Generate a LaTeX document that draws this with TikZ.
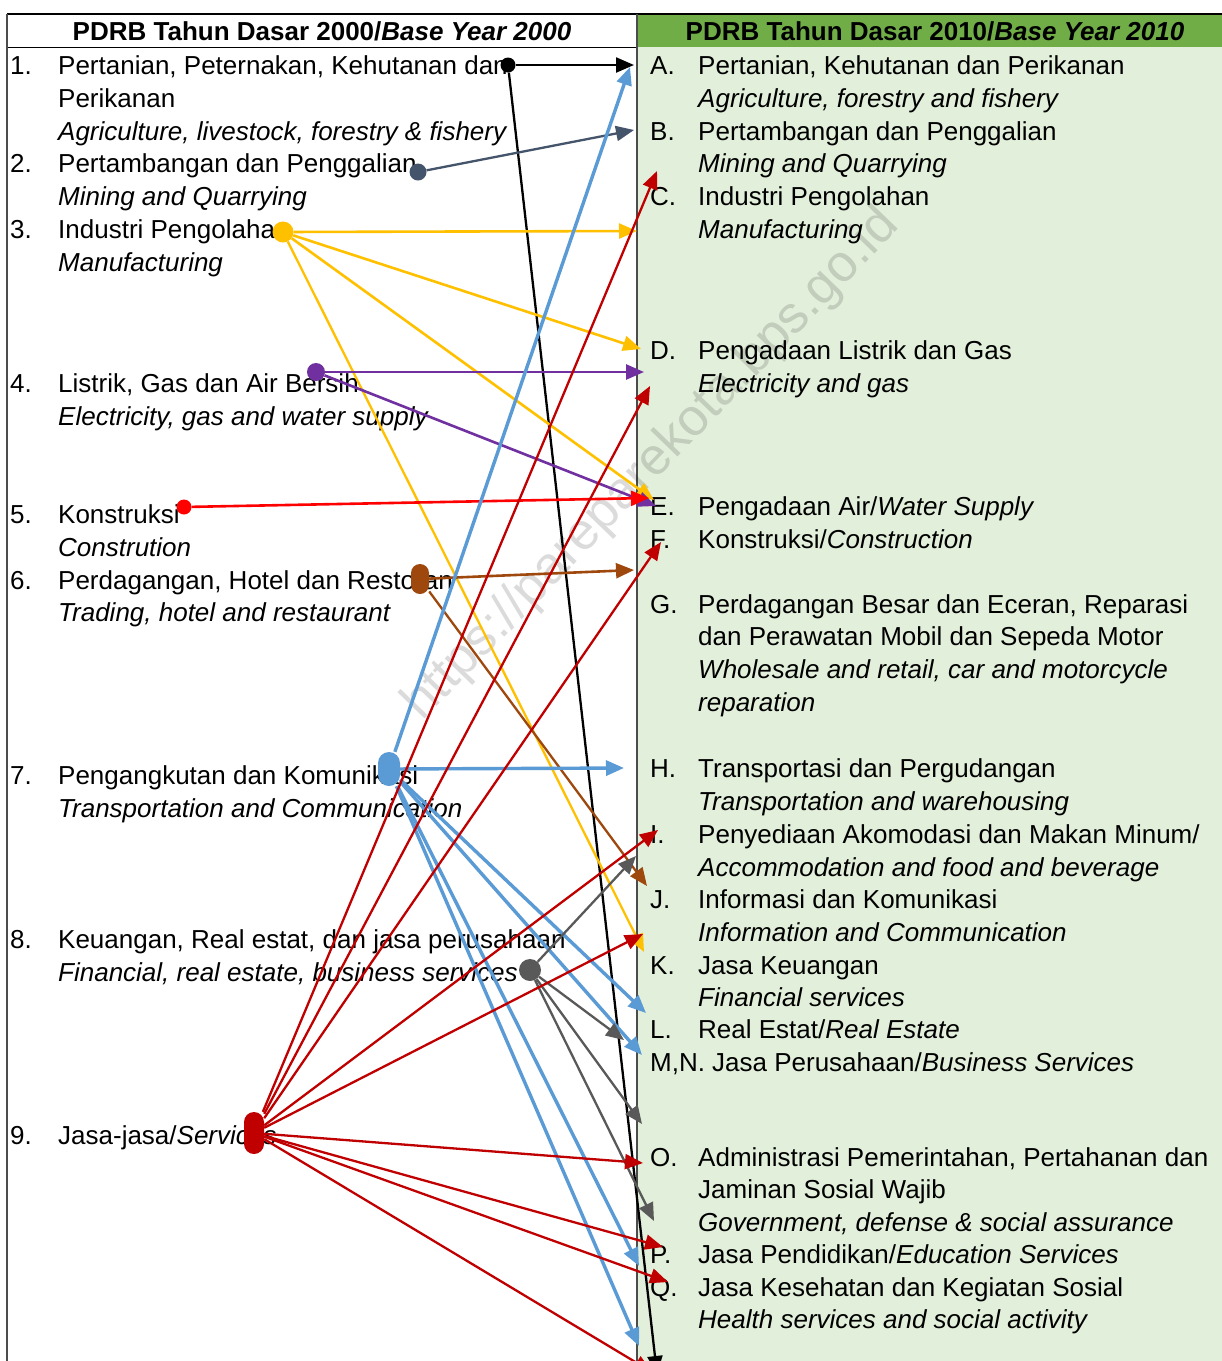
\documentclass[tikz,border=0pt]{standalone}
\usepackage{fontspec}
\setmainfont{Liberation Sans}
\usetikzlibrary{arrows.meta}
\definecolor{hdrgreen}{HTML}{70AD47}
\definecolor{bodygreen}{HTML}{E2EFDA}
\definecolor{cslate}{HTML}{44546A}
\definecolor{cyellow}{HTML}{FFC000}
\definecolor{cpurple}{HTML}{7030A0}
\definecolor{cred}{HTML}{FF0000}
\definecolor{cbrown}{HTML}{9E480E}
\definecolor{cblue}{HTML}{5B9BD5}
\definecolor{cgray}{HTML}{595959}
\definecolor{cdred}{HTML}{C00000}
\begin{document}
\begin{tikzpicture}[x=1pt,y=-1pt,
  lbl/.style={anchor=base west,inner sep=0pt,font=\fontsize{26}{31}\selectfont},
  ilbl/.style={anchor=base west,inner sep=0pt,font=\fontsize{26}{31}\selectfont\itshape},
  hdr/.style={inner sep=0pt,font=\fontsize{26}{31}\selectfont\bfseries},
  conn/.style={line width=2.3pt,-{Triangle[length=18pt,width=15pt]}},
  bconn/.style={line width=3.4pt,cblue,-{Triangle[length=18pt,width=15pt]}},
  dot/.style={circle,inner sep=0pt,minimum size=15pt},
  capsule/.style={rectangle,rounded corners=9pt,inner sep=0pt,minimum width=18pt}]
\useasboundingbox (0,0) rectangle (1222,1361);
\clip (0,0) rectangle (1222,1361);
% backgrounds
\fill[white] (0,0) rectangle (1222,1361);
\fill[bodygreen] (637,47) rectangle (1222,1361);
\fill[hdrgreen] (637,14) rectangle (1222,47);
\draw[line width=1.5pt] (7,14) -- (1222,14);
\draw[line width=1pt] (7,47) -- (637,47);
\draw[line width=1.2pt,black!70] (7,14) -- (7,1361);
\draw[line width=1.2pt,black!70] (637,14) -- (637,1361);
% headers
\node[hdr] (h1) at (322,31) {PDRB Tahun Dasar 2000/\textit{Base Year 2000}};
\node[hdr] (h2) at (935,31) {PDRB Tahun Dasar 2010/\textit{Base Year 2010}};
% watermark
\node[rotate=46,text=black,text opacity=0.14,inner sep=0pt,font=\fontsize{52}{60}\selectfont] (wm) at (652,465) {https://pareparekota.bps.go.id};
% left column
\node[lbl] (n1) at (10,74) {1.};
\node[lbl] (t1a) at (58,74) {Pertanian, Peternakan, Kehutanan dan};
\node[lbl] (t1b) at (58,107) {Perikanan};
\node[ilbl] (t1c) at (58,140) {Agriculture, livestock, forestry \& fishery};
\node[lbl] (n2) at (10,172) {2.};
\node[lbl] (t2a) at (58,172) {Pertambangan dan Penggalian};
\node[ilbl] (t2b) at (58,205) {Mining and Quarrying};
\node[lbl] (n3) at (10,238) {3.};
\node[lbl] (t3a) at (58,238) {Industri Pengolahan};
\node[ilbl] (t3b) at (58,271) {Manufacturing};
\node[lbl] (n4) at (10,392) {4.};
\node[lbl] (t4a) at (58,392) {Listrik, Gas dan Air Bersih};
\node[ilbl] (t4b) at (58,425) {Electricity, gas and water supply};
\node[lbl] (n5) at (10,523) {5.};
\node[lbl] (t5a) at (58,523) {Konstruksi};
\node[ilbl] (t5b) at (58,556) {Constrution};
\node[lbl] (n6) at (10,589) {6.};
\node[lbl] (t6a) at (58,589) {Perdagangan, Hotel dan Restoran};
\node[ilbl] (t6b) at (58,621) {Trading, hotel and restaurant};
\node[lbl] (n7) at (10,784) {7.};
\node[lbl] (t7a) at (58,784) {Pengangkutan dan Komunikasi};
\node[ilbl] (t7b) at (58,817) {Transportation and Communication};
\node[lbl] (n8) at (10,948) {8.};
\node[lbl] (t8a) at (58,948) {Keuangan, Real estat, dan jasa perusahaan};
\node[ilbl] (t8b) at (58,981) {Financial, real estate, business services};
\node[lbl] (n9) at (10,1144) {9.};
\node[lbl] (t9a) at (58,1144) {Jasa-jasa/\textit{Services}};
% right column
\node[lbl] (lA) at (650,74) {A.};
\node[lbl] (rA1) at (698,74) {Pertanian, Kehutanan dan Perikanan};
\node[ilbl] (rA2) at (698,107) {Agriculture, forestry and fishery};
\node[lbl] (lB) at (650,140) {B.};
\node[lbl] (rB1) at (698,140) {Pertambangan dan Penggalian};
\node[ilbl] (rB2) at (698,172) {Mining and Quarrying};
\node[lbl] (lC) at (650,205) {C.};
\node[lbl] (rC1) at (698,205) {Industri Pengolahan};
\node[ilbl] (rC2) at (698,238) {Manufacturing};
\node[lbl] (lD) at (650,359) {D.};
\node[lbl] (rD1) at (698,359) {Pengadaan Listrik dan Gas};
\node[ilbl] (rD2) at (698,392) {Electricity and gas};
\node[lbl] (lE) at (650,515) {E.};
\node[lbl] (rE1) at (698,515) {Pengadaan Air/\textit{Water Supply}};
\node[lbl] (lF) at (650,548) {F.};
\node[lbl] (rF1) at (698,548) {Konstruksi/\textit{Construction}};
\node[lbl] (lG) at (650,613) {G.};
\node[lbl] (rG1) at (698,613) {Perdagangan Besar dan Eceran, Reparasi};
\node[lbl] (rG2) at (698,645) {dan Perawatan Mobil dan Sepeda Motor};
\node[ilbl] (rG3) at (698,678) {Wholesale and retail, car and motorcycle};
\node[ilbl] (rG4) at (698,711) {reparation};
\node[lbl] (lH) at (650,777) {H.};
\node[lbl] (rH1) at (698,777) {Transportasi dan Pergudangan};
\node[ilbl] (rH2) at (698,810) {Transportation and warehousing};
\node[lbl] (lI) at (650,843) {I.};
\node[lbl] (rI1) at (698,843) {Penyediaan Akomodasi dan Makan Minum/};
\node[ilbl] (rI2) at (698,876) {Accommodation and food and beverage};
\node[lbl] (lJ) at (650,908) {J.};
\node[lbl] (rJ1) at (698,908) {Informasi dan Komunikasi};
\node[ilbl] (rJ2) at (698,941) {Information and Communication};
\node[lbl] (lK) at (650,974) {K.};
\node[lbl] (rK1) at (698,974) {Jasa Keuangan};
\node[ilbl] (rK2) at (698,1006) {Financial services};
\node[lbl] (lL) at (650,1038) {L.};
\node[lbl] (rL1) at (698,1038) {Real Estat/\textit{Real Estate}};
\node[lbl] (lMN) at (650,1071) {M,N.};
\node[lbl] (rMN1) at (712,1071) {Jasa Perusahaan/\textit{Business Services}};
\node[lbl] (lO) at (650,1166) {O.};
\node[lbl] (rO1) at (698,1166) {Administrasi Pemerintahan, Pertahanan dan};
\node[lbl] (rO2) at (698,1198) {Jaminan Sosial Wajib};
\node[ilbl] (rO3) at (698,1231) {Government, defense \& social assurance};
\node[lbl] (lP) at (650,1263) {P.};
\node[lbl] (rP1) at (698,1263) {Jasa Pendidikan/\textit{Education Services}};
\node[lbl] (lQ) at (650,1296) {Q.};
\node[lbl] (rQ1) at (698,1296) {Jasa Kesehatan dan Kegiatan Sosial};
\node[ilbl] (rQ2) at (698,1328) {Health services and social activity};
% source dots
\node[dot,fill=black,minimum size=15pt] (s1) at (508,65) {};
\node[dot,fill=cslate,minimum size=17pt] (s2) at (418,172) {};
\node[dot,fill=cyellow,minimum size=21pt] (s3) at (283,232) {};
\node[dot,fill=cpurple,minimum size=18pt] (s4) at (316,372) {};
\node[dot,fill=cred,minimum size=15pt] (s5) at (184,507) {};
\node[capsule,fill=cbrown,minimum height=30pt] (s6) at (420,579) {};
\node[capsule,fill=cblue,rounded corners=11pt,minimum width=22pt,minimum height=34pt] (s7) at (389,769) {};
\node[dot,fill=cgray,minimum size=22pt] (s8) at (530,970) {};
\node[capsule,fill=cdred,rounded corners=10pt,minimum width=20pt,minimum height=42pt] (s9) at (254,1133) {};
% target points
\coordinate (kA) at (634,65);
\coordinate (kBot) at (657,1374);
\coordinate (sB) at (634,130);
\coordinate (yC) at (637,231);
\coordinate (yD) at (641,349);
\coordinate (yE) at (654,500);
\coordinate (yK) at (644,952);
\coordinate (pD) at (644,372);
\coordinate (pE) at (656,506);
\coordinate (rE) at (649,498);
\coordinate (bG) at (634,570);
\coordinate (bJ) at (647,886);
\coordinate (uA) at (630,67);
\coordinate (uH) at (624,768);
\coordinate (uL) at (646,1013);
\coordinate (uMN) at (642,1055);
\coordinate (uP) at (639,1266);
\coordinate (uBot) at (639,1346);
\coordinate (gI) at (636,856);
\coordinate (gL) at (624,1040);
\coordinate (gO) at (642,1124);
\coordinate (gO2) at (654,1221);
\coordinate (dC) at (657,171);
\coordinate (dD) at (650,386);
\coordinate (dF) at (661,542);
\coordinate (dI) at (658,830);
\coordinate (dK) at (643,934);
\coordinate (dO) at (643,1163);
\coordinate (dP) at (663,1247);
\coordinate (dQ) at (668,1282);
\coordinate (dBot) at (652,1372);
% connectors
\draw[conn,black] (s1) -- (kA);
\draw[conn,black] (s1) -- (kBot);
\draw[conn,cslate] (s2) -- (sB);
\draw[conn,cyellow,line width=2.6pt] (s3) -- (yC);
\draw[conn,cyellow,line width=2.6pt] (s3) -- (yD);
\draw[conn,cyellow,line width=2.6pt] (s3) -- (yE);
\draw[conn,cyellow] (s3) -- (yK);
\draw[conn,cpurple,line width=2.6pt] (s4) -- (pD);
\draw[conn,cpurple,line width=2.6pt] (s4) -- (pE);
\draw[conn,cred,line width=2.6pt] (s5) -- (rE);
\draw[conn,cbrown,line width=2.6pt] (s6) -- (bG);
\draw[conn,cbrown] (s6) -- (bJ);
\draw[bconn] (s7) -- (uA);
\draw[bconn] (s7) -- (uH);
\draw[bconn] (s7) -- (uL);
\draw[bconn] (s7) -- (uMN);
\draw[bconn] (s7) -- (uP);
\draw[bconn] (s7) -- (uBot);
\draw[conn,cgray] (s8) -- (gI);
\draw[conn,cgray] (s8) -- (gL);
\draw[conn,cgray] (s8) -- (gO);
\draw[conn,cgray] (s8) -- (gO2);
\draw[conn,cdred] (s9) -- (dC);
\draw[conn,cdred] (s9) -- (dD);
\draw[conn,cdred] (s9) -- (dF);
\draw[conn,cdred] (s9) -- (dI);
\draw[conn,cdred] (s9) -- (dK);
\draw[conn,cdred] (s9) -- (dO);
\draw[conn,cdred] (s9) -- (dP);
\draw[conn,cdred] (s9) -- (dQ);
\draw[conn,cdred] (s9) -- (dBot);
\end{tikzpicture}
\end{document}
